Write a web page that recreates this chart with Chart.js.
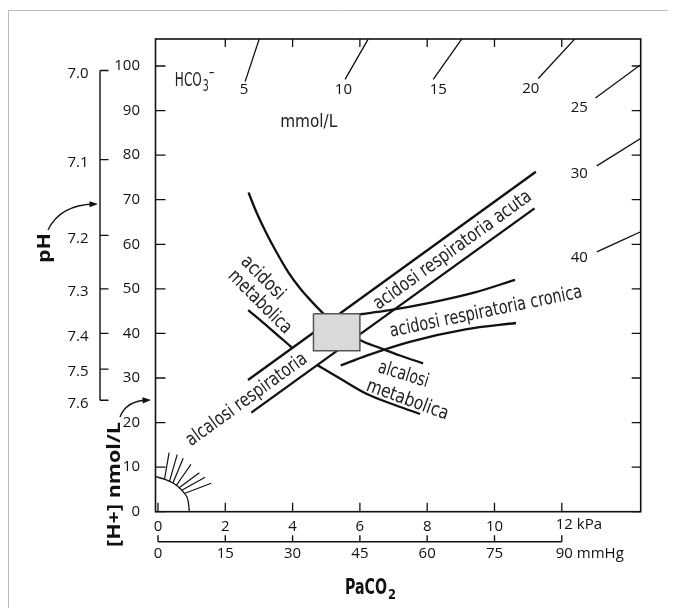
<!DOCTYPE html>
<html>
<head>
<meta charset="utf-8">
<script src="https://cdn.jsdelivr.net/npm/chart.js@4.4.0/dist/chart.umd.min.js"></script>
<style>
  html, body { margin: 0; padding: 0; background: #fff; }
  canvas { display: block; }
</style>
</head>
<body>
<canvas id="nomo" width="676" height="616"></canvas>
<script>
// PaCO2 in kPa on x, [H+] in nmol/L on y
const kpaTicks = [0, 2, 4, 6, 8, 10, 12];
const mmHgTicks = ['0', '15', '30', '45', '60', '75', '90'];
const nmolTicks = [0, 10, 20, 30, 40, 50, 60, 70, 80, 90, 100];
const phTicks = ['7.0', '7.1', '7.2', '7.3', '7.4', '7.5', '7.6'];
const phNmol = [99, 79, 62, 50, 40, 32, 25];

// HCO3- isopleths (mmol/L), short segments at the border
const hco3Values = ['5', '10', '15', '20', '25', '30', '40'];
const hco3Lines = [
  [[3.01, 106.1], [2.59, 96.5]],
  [[6.25, 106.1], [5.56, 97.0]],
  [[9.03, 106.1], [8.18, 97.0]],
  [[12.39, 106.1], [11.30, 97.2]],
  [[14.40, 100.6], [13.00, 92.8]],
  [[14.40, 84.0], [13.04, 77.6]],
  [[14.40, 63.0], [13.04, 58.3]]
];

// normal area
const boxKpa = [4.62, 6.0];
const boxNmol = [36.1, 44.4];

// respiratory band (two straight lines)
const respUpper = [[2.675, 29.55], [11.23, 76.28]];
const respLower = [[2.773, 22.23], [11.19, 68.07]];

// chronic respiratory acidosis band
const chronUpper = [[6.0, 44.3], [6.84, 45.16], [8.11, 46.91], [9.39, 49.14], [10.61, 52.03]];
const chronLower = [[5.43, 32.82], [6.2, 35.02], [7.48, 38.12], [9.14, 40.92], [10.64, 42.34]];

// metabolic band
const metabUpper = [[2.69, 71.62], [2.91, 67.47], [3.18, 63.09], [3.51, 58.38], [3.86, 53.89],
  [4.22, 50.12], [4.58, 47.05], [4.91, 44.51], [5.44, 41.44], [6.0, 38.52], [6.6, 36.73],
  [7.19, 35.05], [7.88, 33.3]];
const metabLowerAcid = [[2.68, 45.25], [3.33, 41.1], [3.97, 36.89]];
const metabLowerAlk = [[4.73, 32.92], [5.41, 29.89], [6.21, 26.41], [7.04, 23.94], [7.79, 21.92]];

// small fan near the origin
const fanArc = [[-0.07, 7.85], [0.21, 7.27], [0.46, 6.37], [0.65, 5.25], [0.8, 3.97], [0.9, 2.24], [0.93, 0.1]];
const fanSpokes = [
  [[0.19, 7.11], [0.33, 13.24]],
  [[0.34, 6.73], [0.57, 12.79]],
  [[0.44, 6.37], [0.75, 11.98]],
  [[0.54, 5.83], [0.98, 10.63]],
  [[0.63, 5.38], [1.23, 8.75]],
  [[0.72, 4.87], [1.4, 7.72]],
  [[0.8, 4.13], [1.58, 6.37]]
];

const NUM = '"Open Sans", "DejaVu Sans", sans-serif';
const COND = '"Liberation Sans Narrow", "DejaVu Sans Condensed", Roboto, sans-serif';
const NUMFONT = '500 15px ' + NUM;

// text placed in data units: [text, kPa, nmol, rotation, width]
const bandLabels = [
  ['acidosi respiratoria acuta', 8.76, 58.6, -35.8, 190],
  ['acidosi respiratoria cronica', 9.75, 44.8, -11.7, 196],
  ['alcalosi respiratoria', 2.64, 25.1, -36, 145],
  ['acidosi', 3.11, 52.4, 45, 54],
  ['metabolica', 3.02, 47.0, 45, 82],
  ['alcalosi', 7.29, 30.7, 17, 52],
  ['metabolica', 7.41, 25.0, 20, 86]
];
const hco3LabelPos = [[2.56, 94.6], [5.51, 94.6], [8.33, 94.6], [11.08, 94.8], [12.52, 90.7], [12.52, 75.8], [12.52, 56.9]];

function pts(arr) {
  return arr.map(p => ({ x: p[0], y: p[1] }));
}

function line(arr, width, extra) {
  return Object.assign({
    data: pts(arr),
    showLine: true,
    borderColor: '#111',
    borderWidth: width,
    pointRadius: 0,
    cubicInterpolationMode: 'monotone',
    fill: false,
    order: 1
  }, extra || {});
}

function txt(ctx, s, x, y, o) {
  ctx.save();
  ctx.translate(x, y);
  if (o.rot) ctx.rotate(o.rot * Math.PI / 180);
  ctx.font = o.font;
  ctx.textAlign = o.align || 'center';
  ctx.textBaseline = o.base || 'middle';
  if (o.w) {
    const m = ctx.measureText(s).width;
    ctx.scale(o.w / m, 1);
  }
  ctx.fillStyle = o.color || '#111';
  ctx.fillText(s, 0, 0);
  ctx.restore();
}

function arrow(ctx, x0, y0, cx, cy, x1, y1) {
  ctx.beginPath();
  ctx.moveTo(x0, y0);
  ctx.quadraticCurveTo(cx, cy, x1 - 4, y1);
  ctx.stroke();
  const ang = Math.atan2(y1 - cy, x1 - cx);
  ctx.beginPath();
  ctx.moveTo(x1, y1);
  ctx.lineTo(x1 - 9 * Math.cos(ang - 0.35), y1 - 9 * Math.sin(ang - 0.35));
  ctx.lineTo(x1 - 9 * Math.cos(ang + 0.35), y1 - 9 * Math.sin(ang + 0.35));
  ctx.closePath();
  ctx.fill();
}

const decor = {
  id: 'decor',
  afterDatasetsDraw(chart) {
    const { ctx, chartArea: a, scales: { x, y } } = chart;
    ctx.save();
    ctx.strokeStyle = '#111';
    ctx.fillStyle = '#111';

    // plot frame with inward ticks
    ctx.lineWidth = 1.6;
    ctx.strokeRect(a.left, a.top, a.right - a.left, a.bottom - a.top);
    ctx.lineWidth = 1.3;
    ctx.beginPath();
    kpaTicks.forEach(v => {
      const px = x.getPixelForValue(v);
      ctx.moveTo(px, a.bottom);
      ctx.lineTo(px, a.bottom - 9);
      if (v > 0) {
        ctx.moveTo(px, a.top);
        ctx.lineTo(px, a.top + 8);
      }
    });
    nmolTicks.forEach(v => {
      const py = y.getPixelForValue(v);
      ctx.moveTo(a.left, py);
      ctx.lineTo(a.left + 10, py);
      ctx.moveTo(a.right, py);
      ctx.lineTo(a.right - 9, py);
    });
    ctx.stroke();

    // pH bracket
    const bx = a.left - 55.5;
    const top = y.getPixelForValue(phNmol[0]);
    const bot = y.getPixelForValue(phNmol[phNmol.length - 1]);
    ctx.lineWidth = 1.4;
    ctx.beginPath();
    ctx.moveTo(bx, top);
    ctx.lineTo(bx, bot);
    phNmol.forEach(v => {
      const py = y.getPixelForValue(v);
      ctx.moveTo(bx, py);
      ctx.lineTo(bx + 8.5, py);
    });
    ctx.stroke();
    phNmol.forEach((v, i) => {
      txt(ctx, phTicks[i], bx - 11.5, y.getPixelForValue(v) + 3, { font: NUMFONT, align: 'right' });
    });

    // mmHg bracket
    const my = a.bottom + 30;
    ctx.beginPath();
    ctx.moveTo(x.getPixelForValue(0), my);
    ctx.lineTo(x.getPixelForValue(12), my);
    kpaTicks.forEach(v => {
      const px = x.getPixelForValue(v);
      ctx.moveTo(px, my);
      ctx.lineTo(px, my - 6.5);
    });
    ctx.stroke();
    kpaTicks.forEach((v, i) => {
      const px = x.getPixelForValue(v);
      if (i === kpaTicks.length - 1) {
        txt(ctx, mmHgTicks[i] + ' mmHg', px - 6, my + 12, { font: NUMFONT, align: 'left' });
      } else {
        txt(ctx, mmHgTicks[i], px, my + 12, { font: NUMFONT });
      }
    });
    txt(ctx, '12 kPa', x.getPixelForValue(12) - 6, a.bottom + 13.5, { font: NUMFONT, align: 'left' });

    // HCO3 numbers
    hco3LabelPos.forEach((p, i) => {
      txt(ctx, hco3Values[i], x.getPixelForValue(p[0]), y.getPixelForValue(p[1]), { font: NUMFONT });
    });
    // HCO3- and unit
    const hx = x.getPixelForValue(0.5), hy = y.getPixelForValue(95.6);
    txt(ctx, 'HCO', hx, hy, { font: '19px ' + COND, align: 'left', base: 'alphabetic', w: 27, color: '#222' });
    txt(ctx, '3', hx + 28, hy + 5, { font: '15px ' + COND, align: 'left', base: 'alphabetic', w: 6, color: '#222' });
    txt(ctx, '\u2212', hx + 34, hy - 9, { font: '14px ' + COND, align: 'left', base: 'alphabetic', w: 6, color: '#222' });
    txt(ctx, 'mmol/L', x.getPixelForValue(3.63), y.getPixelForValue(86.4), { font: '18px ' + COND, align: 'left', base: 'alphabetic', w: 57, color: '#222' });

    // band labels
    bandLabels.forEach(l => {
      txt(ctx, l[0], x.getPixelForValue(l[1]), y.getPixelForValue(l[2]), { font: '19px ' + COND, rot: l[3], w: l[4], color: '#222' });
    });

    // axis titles
    txt(ctx, 'pH', 45, 248, { font: 'bold 18px ' + NUM, rot: -90, w: 30 });
    txt(ctx, '[H+] nmol/L', 115.5, 484.5, { font: 'bold 17px ' + NUM, rot: -90, w: 125 });
    txt(ctx, 'PaCO', 345, 594, { font: 'bold 21px ' + COND, align: 'left', base: 'alphabetic', w: 42 });
    txt(ctx, '2', 388, 599, { font: 'bold 14px ' + COND, align: 'left', base: 'alphabetic', w: 8 });

    // arrows to the pH and [H+] scales
    ctx.lineWidth = 1.3;
    arrow(ctx, 48, 230, 60, 205, 98, 204);
    arrow(ctx, 120, 417, 126, 401, 151, 400);

    // page frame
    ctx.strokeStyle = '#bbb';
    ctx.lineWidth = 1;
    ctx.beginPath();
    ctx.moveTo(8.5, 608);
    ctx.lineTo(8.5, 10.5);
    ctx.lineTo(668, 10.5);
    ctx.stroke();
    ctx.restore();
  }
};

const datasets = [
  line([[boxKpa[0], boxNmol[1]], [boxKpa[1], boxNmol[1]], [boxKpa[1], boxNmol[0]], [boxKpa[0], boxNmol[0]], [boxKpa[0], boxNmol[1]]], 1.5,
    { borderColor: '#555', cubicInterpolationMode: 'default', tension: 0, order: 0 }),
  line([[boxKpa[0], boxNmol[1]], [boxKpa[1], boxNmol[1]]], 0,
    { fill: { value: boxNmol[0] }, backgroundColor: '#d9d9d9', cubicInterpolationMode: 'default', tension: 0, order: 0 }),
  line(respUpper, 2.3),
  line(respLower, 2.3),
  line(chronUpper, 2.3),
  line(chronLower, 2.3),
  line(metabUpper, 2.3),
  line(metabLowerAcid, 2.3),
  line(metabLowerAlk, 2.3),
  line(fanArc, 1.3)
];
hco3Lines.forEach(s => datasets.push(line(s, 1.3)));
fanSpokes.forEach(s => datasets.push(line(s, 1.2)));

new Chart(document.getElementById('nomo'), {
  type: 'scatter',
  data: { datasets: datasets },
  options: {
    responsive: false,
    animation: false,
    events: [],
    layout: { padding: { top: 39, right: 35.3, left: 0, bottom: 0 } },
    plugins: { legend: { display: false }, tooltip: { enabled: false } },
    scales: {
      x: {
        type: 'linear',
        min: -0.074,
        max: 14.345,
        afterFit: s => { s.height = 104.3; },
        afterBuildTicks: s => { s.ticks = kpaTicks.map(v => ({ value: v })); },
        grid: { display: false },
        border: { display: false },
        ticks: {
          padding: -2,
          color: '#111',
          font: { family: NUM, size: 15, weight: '500' },
          maxRotation: 0,
          autoSkip: false,
          callback: v => (v === 12 ? '' : String(v))
        }
      },
      y: {
        type: 'linear',
        min: 0,
        max: 106.06,
        afterFit: s => { s.width = 155.5; },
        afterBuildTicks: s => { s.ticks = nmolTicks.map(v => ({ value: v })); },
        grid: { display: false },
        border: { display: false },
        ticks: {
          padding: 7.5,
          color: '#111',
          font: { family: NUM, size: 15, weight: '500' },
          autoSkip: false,
          callback: v => String(v)
        }
      }
    }
  },
  plugins: [decor]
});
</script>
</body>
</html>
